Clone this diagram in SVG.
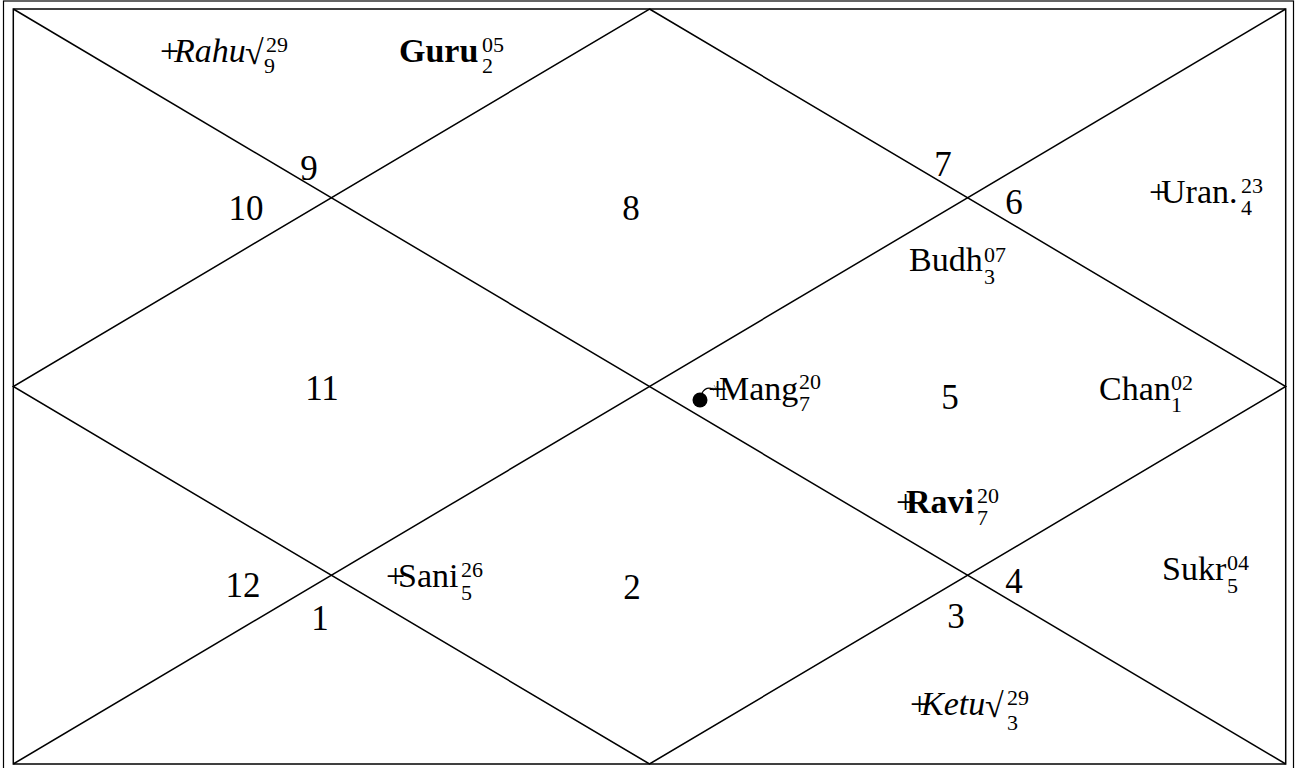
<svg xmlns="http://www.w3.org/2000/svg" width="1303" height="768" viewBox="0 0 1303 768">
<style>
text{font-family:"Liberation Serif","Times New Roman",serif;fill:#000}
.n{font-size:35px;text-anchor:middle}
.p{font-size:34px}
.b{font-weight:bold}
.i{font-style:italic}
.r{font-size:34px;font-style:italic}
.s{font-size:22px}
.ln{stroke:#000;stroke-width:1.5;fill:none}
</style>
<rect x="0" y="0" width="1303" height="768" fill="#fff"/>
<g id="connectors">
<rect x="3.5" y="1" width="1290" height="800" fill="none" stroke="#000" stroke-width="1.2"/>
<rect class="ln" x="13.3" y="9" width="1272.4" height="755"/>
<line class="ln" x1="13.3" y1="9" x2="1285.7" y2="764"/>
<line class="ln" x1="1285.7" y1="9" x2="13.3" y2="764"/>
<polygon class="ln" points="649.5,9 1285.7,386.5 649.5,764 13.3,386.5"/>
</g>
<g id="house-9">
<text class="n" x="309" y="180">9</text>
<text class="p" x="160" y="62">+</text>
<text class="p i" x="174" y="62">Rahu</text>
<text class="r" x="245" y="64">√</text>
<text class="s" x="266" y="52">29</text>
<text class="s" x="264" y="73">9</text>
<text class="p b" x="399" y="62">Guru</text>
<text class="s" x="482" y="52">05</text>
<text class="s" x="482" y="73">2</text>
</g>
<g id="house-10"><text class="n" x="246" y="220">10</text></g>
<g id="house-8"><text class="n" x="631" y="220">8</text></g>
<g id="house-7"><text class="n" x="943" y="176">7</text></g>
<g id="house-6">
<text class="n" x="1014" y="214">6</text>
<text class="p" x="1149" y="203">+</text>
<text class="p" x="1161" y="203">Uran.</text>
<text class="s" x="1241" y="193">23</text>
<text class="s" x="1241" y="215">4</text>
</g>
<g id="house-5">
<text class="n" x="950" y="409">5</text>
<text class="p" x="909" y="271">Budh</text>
<text class="s" x="984" y="262">07</text>
<text class="s" x="984" y="284">3</text>
<circle cx="700" cy="400" r="7.5" fill="#000"/>
<path d="M702,393 Q706,386 713,389" fill="none" stroke="#000" stroke-width="1.3"/>
<path d="M714,385 l3,6 M712,388 l7,1 M713,391 l4,-5" stroke="#999" stroke-width="0.8" fill="none"/>
<text class="p" x="708" y="400">+</text>
<text class="p" x="719" y="400">Mang</text>
<text class="s" x="799" y="389">20</text>
<text class="s" x="799" y="411">7</text>
<text class="p" x="1099" y="400">Chan</text>
<text class="s" x="1171" y="390">02</text>
<text class="s" x="1171" y="412">1</text>
<text class="p" x="896" y="513">+</text>
<text class="p b" x="906" y="513">Ravi</text>
<text class="s" x="977" y="503">20</text>
<text class="s" x="977" y="525">7</text>
</g>
<g id="house-4">
<text class="n" x="1014" y="593">4</text>
<text class="p" x="1162" y="580">Sukr</text>
<text class="s" x="1227" y="570">04</text>
<text class="s" x="1227" y="593">5</text>
</g>
<g id="house-3">
<text class="n" x="956" y="628">3</text>
<text class="p" x="910" y="715">+</text>
<text class="p i" x="921" y="715">Ketu</text>
<text class="r" x="985" y="717">√</text>
<text class="s" x="1007" y="705">29</text>
<text class="s" x="1007" y="730">3</text>
</g>
<g id="house-2">
<text class="n" x="632" y="599">2</text>
<text class="p" x="386" y="587">+</text>
<text class="p" x="398" y="587">Sani</text>
<text class="s" x="461" y="577">26</text>
<text class="s" x="461" y="600">5</text>
</g>
<g id="house-1"><text class="n" x="320" y="630">1</text></g>
<g id="house-12"><text class="n" x="243" y="597">12</text></g>
<g id="house-11"><text class="n" x="322" y="400">11</text></g>
</svg>
